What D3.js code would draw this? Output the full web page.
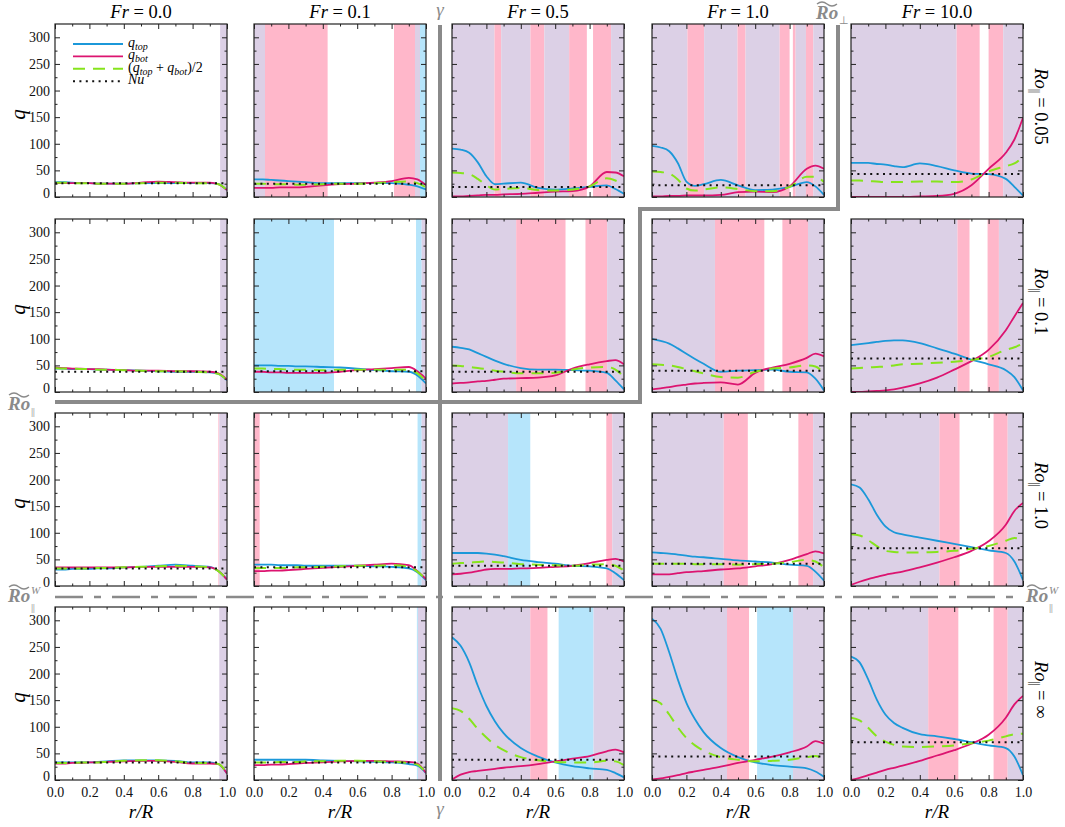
<!DOCTYPE html>
<html>
<head>
<meta charset="utf-8">
<script src="https://cdnjs.cloudflare.com/ajax/libs/d3/7.8.5/d3.min.js"></script>
<style>
body { margin: 0; background: #fff; }
svg, svg text { font-family: "Liberation Serif", "Times New Roman", serif; }
</style>
</head>
<body>
<div id="chart"></div>
<script>
var frLabels = ["0.0", "0.1", "0.5", "1.0", "10.0"];
var roLabels = ["0.05", "0.1", "1.0", "\u221e"];
var rGrid = [0, 0.05, 0.1, 0.15, 0.2, 0.25, 0.3, 0.4, 0.5, 0.6, 0.7, 0.8, 0.9, 0.95, 1.0];
var xTicks = [0, 0.2, 0.4, 0.6, 0.8, 1.0];
var xMinor = [0.1, 0.3, 0.5, 0.7, 0.9];
var yTicks = [0, 50, 100, 150, 200, 250, 300];
var yMinor = [25, 75, 125, 175, 225, 275];

// one array per Fr column, rows = Ro_par
var qTopRo005 = [
    [28, 28, 27, 26, 26, 25, 25, 25, 26, 26, 26, 26, 26, 24, 13],
    [33, 33, 32, 31, 30, 29, 28, 26, 26, 26, 26, 26, 23, 20, 14],
    [91, 89, 83, 65, 39, 24, 25, 27, 17, 14, 16, 19, 22, 15, 6],
    [96, 93, 86, 64, 29, 21, 24, 32, 22, 13, 14, 19, 28, 20, 4],
    [64, 64, 64, 62, 61, 58, 56, 63, 58, 50, 44, 43, 34, 19, 3]
];
var qBotRo005 = [
    [26, 26, 26, 26, 26, 25, 25, 25, 27, 29, 28, 27, 27, 24, 13],
    [17, 17, 17, 18, 18, 18, 19, 22, 24, 25, 27, 30, 36, 33, 22],
    [1, 1, 2, 3, 4, 4, 5, 6, 8, 10, 11, 20, 47, 46, 39],
    [1, 1, 2, 2, 3, 3, 3, 4, 9, 10, 9, 20, 53, 59, 53],
    [0, 0, 0, 0, 0, 0, 0, 1, 2, 6, 22, 53, 83, 108, 149]
];
var qMeanRo005 = [
    [27, 27, 26, 26, 26, 25, 25, 25, 26, 27, 27, 26, 26, 24, 13],
    [25, 25, 24, 24, 24, 23, 23, 24, 25, 25, 26, 28, 29, 26, 18],
    [46, 45, 43, 34, 22, 14, 15, 17, 13, 12, 14, 20, 35, 31, 23],
    [48, 47, 44, 33, 16, 12, 14, 18, 15, 11, 11, 19, 38, 38, 28],
    [31, 31, 30, 29, 28, 28, 28, 29, 29, 28, 33, 48, 58, 63, 76]
];
var nuRo005 = [26, 25, 19, 22, 43];

var qTopRo01 = [
    [44, 44, 43, 43, 43, 42, 42, 41, 40, 39, 38, 38, 37, 34, 22],
    [50, 50, 50, 49, 49, 48, 48, 47, 46, 44, 41, 39, 38, 31, 16],
    [85, 83, 80, 73, 66, 59, 53, 45, 42, 42, 41, 40, 36, 22, 5],
    [100, 96, 91, 82, 72, 62, 53, 38, 40, 41, 42, 38, 37, 25, 3],
    [88, 90, 92, 94, 96, 97, 97, 92, 82, 72, 61, 52, 41, 28, 3]
];
var qBotRo01 = [
    [46, 45, 44, 44, 43, 43, 42, 41, 40, 40, 39, 39, 38, 35, 23],
    [38, 38, 37, 37, 36, 36, 36, 36, 38, 41, 43, 45, 47, 39, 25],
    [16, 17, 18, 20, 21, 23, 25, 26, 27, 31, 44, 52, 58, 60, 52],
    [5, 7, 9, 12, 14, 16, 17, 18, 14, 36, 46, 53, 64, 72, 67],
    [0, 0, 1, 2, 3, 5, 8, 16, 27, 42, 58, 79, 116, 142, 167]
];
var qMeanRo01 = [
    [45, 44, 44, 43, 43, 42, 42, 41, 40, 39, 39, 38, 37, 34, 22],
    [44, 44, 43, 43, 42, 42, 42, 41, 42, 42, 42, 42, 42, 35, 20],
    [50, 49, 47, 45, 43, 40, 38, 35, 35, 36, 42, 46, 47, 42, 28],
    [52, 51, 50, 47, 43, 39, 35, 28, 27, 38, 44, 46, 50, 48, 35],
    [44, 45, 46, 47, 48, 50, 52, 53, 55, 57, 60, 66, 79, 84, 91]
];
var nuRo01 = [38, 39, 38, 40, 63];

var qTopRo1 = [
    [31, 31, 32, 32, 32, 33, 33, 35, 36, 38, 40, 38, 36, 28, 12],
    [40, 40, 40, 39, 39, 39, 38, 38, 38, 38, 37, 36, 33, 26, 11],
    [62, 62, 62, 62, 61, 59, 56, 49, 45, 42, 38, 37, 33, 24, 11],
    [63, 62, 61, 59, 57, 55, 54, 51, 48, 46, 44, 40, 38, 27, 10],
    [191, 185, 163, 134, 112, 101, 97, 91, 85, 79, 73, 67, 62, 46, 11]
];
var qBotRo1 = [
    [35, 35, 35, 35, 35, 35, 35, 35, 36, 36, 36, 36, 35, 28, 12],
    [28, 28, 29, 29, 30, 31, 32, 34, 36, 38, 40, 42, 39, 28, 13],
    [22, 23, 25, 28, 31, 32, 32, 33, 34, 36, 38, 43, 49, 51, 46],
    [22, 22, 22, 24, 26, 27, 28, 31, 33, 37, 41, 49, 60, 65, 61],
    [2, 8, 13, 17, 21, 24, 27, 35, 44, 54, 66, 84, 115, 141, 156]
];
var qMeanRo1 = [
    [33, 33, 33, 33, 33, 34, 34, 35, 36, 37, 38, 37, 35, 28, 12],
    [34, 34, 34, 34, 34, 35, 35, 36, 37, 38, 38, 39, 36, 27, 12],
    [42, 43, 44, 45, 46, 45, 44, 41, 40, 39, 38, 40, 41, 38, 29],
    [42, 42, 42, 42, 42, 41, 41, 41, 40, 41, 42, 45, 49, 46, 35],
    [97, 95, 86, 75, 66, 64, 63, 63, 64, 66, 70, 75, 85, 90, 88]
];
var nuRo1 = [33, 35, 38, 42, 71];

var qTopRoInf = [
    [33, 33, 33, 33, 33, 34, 35, 37, 37, 37, 36, 33, 33, 30, 12],
    [38, 38, 38, 38, 38, 38, 38, 37, 36, 35, 34, 33, 30, 27, 13],
    [268, 252, 221, 177, 139, 110, 88, 60, 44, 33, 26, 22, 19, 13, 5],
    [303, 284, 240, 189, 145, 114, 90, 60, 43, 33, 28, 25, 22, 16, 6],
    [232, 221, 189, 151, 123, 107, 98, 86, 82, 77, 71, 65, 60, 44, 9]
];
var qBotRoInf = [
    [31, 31, 32, 32, 33, 33, 34, 35, 36, 36, 34, 31, 31, 30, 12],
    [28, 28, 29, 29, 30, 31, 32, 33, 35, 36, 36, 35, 34, 31, 13],
    [1, 10, 15, 17, 19, 21, 23, 26, 30, 35, 40, 45, 54, 57, 52],
    [1, 3, 6, 9, 13, 16, 19, 25, 32, 38, 44, 52, 63, 73, 68],
    [0, 4, 9, 14, 19, 23, 27, 36, 46, 56, 68, 85, 117, 142, 158]
];
var qMeanRoInf = [
    [32, 32, 32, 33, 33, 33, 34, 36, 37, 37, 35, 32, 32, 30, 12],
    [33, 33, 33, 34, 34, 34, 35, 35, 36, 36, 35, 34, 32, 29, 13],
    [135, 130, 115, 96, 80, 66, 56, 43, 37, 34, 33, 33, 36, 35, 28],
    [152, 144, 123, 99, 79, 65, 55, 43, 38, 35, 36, 38, 43, 45, 38],
    [117, 112, 98, 82, 72, 66, 63, 62, 63, 65, 69, 74, 82, 86, 87]
];
var nuRoInf = [33, 33, 38, 44, 71];

// shaded r/R intervals: [from, to, kind]
var zonesRo005 = [
    [[0.96, 1, "L"]],
    [[0, 0.064, "L"], [0.064, 0.428, "P"], [0.814, 0.936, "P"], [0.936, 0.965, "L"], [0.965, 1, "B"]],
    [[0, 0.247, "L"], [0.247, 0.286, "P"], [0.286, 0.456, "L"], [0.456, 0.537, "P"], [0.537, 0.681, "L"], [0.681, 0.784, "P"], [0.82, 0.925, "P"], [0.925, 1, "L"]],
    [[0, 0.206, "L"], [0.206, 0.303, "P"], [0.303, 0.497, "L"], [0.497, 0.544, "P"], [0.544, 0.742, "L"], [0.742, 0.8, "P"], [0.819, 0.835, "P"], [0.835, 0.895, "L"], [0.895, 0.938, "P"], [0.938, 1, "L"]],
    [[0, 0.614, "L"], [0.614, 0.748, "P"], [0.8, 0.885, "P"], [0.885, 1, "L"]]
];
var zonesRo01 = [
    [[0.96, 1, "L"]],
    [[0, 0.465, "B"], [0.942, 0.975, "B"], [0.975, 1, "L"]],
    [[0, 0.373, "L"], [0.373, 0.66, "P"], [0.776, 0.902, "P"], [0.902, 1, "L"]],
    [[0, 0.366, "L"], [0.366, 0.653, "P"], [0.758, 0.907, "P"], [0.907, 1, "L"]],
    [[0, 0.619, "L"], [0.619, 0.689, "P"], [0.794, 0.86, "P"], [0.86, 1, "L"]]
];
var zonesRo1 = [
    [[0.95, 0.955, "P"], [0.955, 1, "L"]],
    [[0, 0.033, "P"], [0.951, 0.975, "B"], [0.975, 1, "L"]],
    [[0, 0.326, "L"], [0.326, 0.455, "B"], [0.897, 0.932, "P"], [0.932, 1, "L"]],
    [[0, 0.417, "L"], [0.417, 0.557, "P"], [0.851, 0.937, "P"], [0.937, 1, "L"]],
    [[0, 0.514, "L"], [0.514, 0.631, "P"], [0.829, 0.911, "P"], [0.911, 1, "L"]]
];
var zonesRoInf = [
    [[0.955, 1, "L"]],
    [[0.947, 0.953, "B"], [0.953, 1, "L"]],
    [[0, 0.455, "L"], [0.455, 0.555, "P"], [0.62, 0.823, "B"], [0.823, 1, "L"]],
    [[0, 0.436, "L"], [0.436, 0.564, "P"], [0.611, 0.82, "B"], [0.82, 1, "L"]],
    [[0, 0.449, "L"], [0.449, 0.624, "P"], [0.829, 0.911, "P"], [0.911, 1, "L"]]
];

var rows = [
    { top: qTopRo005, bot: qBotRo005, mean: qMeanRo005, nu: nuRo005, zones: zonesRo005 },
    { top: qTopRo01, bot: qBotRo01, mean: qMeanRo01, nu: nuRo01, zones: zonesRo01 },
    { top: qTopRo1, bot: qBotRo1, mean: qMeanRo1, nu: nuRo1, zones: zonesRo1 },
    { top: qTopRoInf, bot: qBotRoInf, mean: qMeanRoInf, nu: nuRoInf, zones: zonesRoInf }
];

var width = 1065, height = 827;
var colLeft = [55, 254, 452, 652, 851];
var rowTop = [24, 219, 413, 607];
var pw = 172, ph = 173;
var serif = "Liberation Serif, Times New Roman, serif";
var par = "||";

var zoneColor = { L: "#dcd0e6", P: "#ffb7ca", B: "#b6e5fb" };
var topColor = "#1b98d9", botColor = "#dc1470", meanColor = "#86e41c";
var sepColor = "#8a8a8a";

var x = d3.scaleLinear().domain([0, 1]).range([0, pw]);
var y = d3.scaleLinear().domain([0, 325]).range([ph, 0]);

var line = d3.line()
    .x(function (d, i) { return x(rGrid[i]); })
    .y(function (d) { return y(d); })
    .curve(d3.curveMonotoneX);

var svg = d3.select("#chart").append("svg")
    .attr("width", width)
    .attr("height", height)
    .attr("font-family", serif);

svg.append("defs").append("clipPath").attr("id", "panelClip")
    .append("rect").attr("width", pw).attr("height", ph);

// rich text: parts = [text, italic, size, dy]
var addRich = function (sel, parts) {
    parts.forEach(function (p) {
        var t = sel.append("tspan").text(p[0]);
        if (p[1]) t.attr("font-style", "italic");
        if (p[2]) t.attr("font-size", p[2]);
        if (p[3]) t.attr("dy", p[3]);
        if (p[0] === par) t.attr("letter-spacing", -0.5);
    });
    return sel;
}

var styleAxis = function (g) {
    g.select(".domain").remove();
    g.attr("font-family", serif).attr("font-size", null);
    g.selectAll("line").attr("stroke", "#222").attr("stroke-width", 1);
    g.selectAll("text").attr("font-size", 14).attr("fill", "#111");
}

var drawTicks = function (g, showY, showX) {
    var left = d3.axisLeft(y).tickValues(yTicks).tickSize(-5).tickPadding(5);
    if (!showY) left.tickFormat("");
    var gl = g.append("g").call(left).call(styleAxis);
    gl.selectAll("text").filter(function (d) { return d === 0; }).attr("dy", "0em");
    g.append("g").call(d3.axisLeft(y).tickValues(yMinor).tickSize(-2.5).tickFormat("")).call(styleAxis);
    g.append("g").attr("transform", "translate(" + pw + ",0)")
        .call(d3.axisRight(y).tickValues(yTicks).tickSize(-5).tickFormat("")).call(styleAxis);
    g.append("g").attr("transform", "translate(" + pw + ",0)")
        .call(d3.axisRight(y).tickValues(yMinor).tickSize(-2.5).tickFormat("")).call(styleAxis);

    var bottom = d3.axisBottom(x).tickValues(xTicks).tickSize(-5).tickPadding(7).tickFormat(d3.format(".1f"));
    if (!showX) bottom.tickFormat("");
    g.append("g").attr("transform", "translate(0," + ph + ")").call(bottom).call(styleAxis);
    g.append("g").attr("transform", "translate(0," + ph + ")")
        .call(d3.axisBottom(x).tickValues(xMinor).tickSize(-2.5).tickFormat("")).call(styleAxis);
    g.append("g").call(d3.axisTop(x).tickValues(xTicks).tickSize(-5).tickFormat("")).call(styleAxis);
    g.append("g").call(d3.axisTop(x).tickValues(xMinor).tickSize(-2.5).tickFormat("")).call(styleAxis);
}

//draw panels
rows.forEach(function (row, ri) {
    frLabels.forEach(function (fr, ci) {
        var g = svg.append("g")
            .attr("transform", "translate(" + colLeft[ci] + "," + rowTop[ri] + ")");
        var plot = g.append("g").attr("clip-path", "url(#panelClip)");

        plot.selectAll("rect.zone").data(row.zones[ci]).join("rect")
            .attr("class", "zone")
            .attr("x", function (d) { return x(d[0]); })
            .attr("width", function (d) { return x(d[1]) - x(d[0]); })
            .attr("y", 0)
            .attr("height", ph)
            .attr("fill", function (d) { return zoneColor[d[2]]; });

        plot.append("path").attr("d", line(row.top[ci]))
            .attr("fill", "none").attr("stroke", topColor).attr("stroke-width", 1.8);
        plot.append("path").attr("d", line(row.bot[ci]))
            .attr("fill", "none").attr("stroke", botColor).attr("stroke-width", 1.8);
        plot.append("path").attr("d", line(row.mean[ci]))
            .attr("fill", "none").attr("stroke", meanColor).attr("stroke-width", 2)
            .attr("stroke-dasharray", "12,8");
        plot.append("line")
            .attr("x1", 0).attr("x2", pw)
            .attr("y1", y(row.nu[ci])).attr("y2", y(row.nu[ci]))
            .attr("stroke", "#111").attr("stroke-width", 2)
            .attr("stroke-dasharray", "2,4.4");

        drawTicks(g, ci === 0, ri === rows.length - 1);

        g.append("rect").attr("width", pw).attr("height", ph)
            .attr("fill", "none").attr("stroke", "#222").attr("stroke-width", 1.2);
    });
});

//column titles and x labels
frLabels.forEach(function (fr, ci) {
    var t = svg.append("text")
        .attr("x", colLeft[ci] + pw / 2).attr("y", 18)
        .attr("text-anchor", "middle").attr("font-size", 18.5);
    addRich(t, [["Fr", true], [" = " + fr, false]]);

    var xl = svg.append("text")
        .attr("x", colLeft[ci] + pw / 2).attr("y", 818)
        .attr("text-anchor", "middle").attr("font-size", 19);
    addRich(xl, [["r/R", true]]);
});

//row labels
roLabels.forEach(function (ro, ri) {
    var cy = rowTop[ri] + ph / 2;
    svg.append("text")
        .attr("transform", "translate(25," + (cy + 4) + ") rotate(-90)")
        .attr("text-anchor", "middle").attr("font-size", 21).attr("font-style", "italic")
        .text("q");
    var t = svg.append("text")
        .attr("transform", "translate(1035," + (cy - 4) + ") rotate(90)")
        .attr("text-anchor", "middle").attr("font-size", 18.5);
    addRich(t, [["Ro", true], [par, false, 12, 4], [" = " + ro, false, null, -4]]);
});

//legend
var legendItems = [
    { color: topColor, dash: null, w: 1.8, parts: [["q", true], ["top", true, 10, 3]] },
    { color: botColor, dash: null, w: 1.8, parts: [["q", true], ["bot", true, 10, 3]] },
    { color: meanColor, dash: "12,8", w: 2, parts: [["(", false], ["q", true], ["top", true, 10, 3], [" + ", false, null, -3], ["q", true], ["bot", true, 10, 3], [")/2", false, null, -3]] },
    { color: "#111", dash: "2,4.4", w: 2, parts: [["Nu", true]] }
];
var legend = svg.append("g").attr("transform", "translate(" + colLeft[0] + "," + rowTop[0] + ")");
legendItems.forEach(function (it, i) {
    var ly = 20 + i * 12.4;
    legend.append("line")
        .attr("x1", 18).attr("x2", 68).attr("y1", ly).attr("y2", ly)
        .attr("stroke", it.color).attr("stroke-width", it.w)
        .attr("stroke-dasharray", it.dash);
    var t = legend.append("text").attr("x", 73).attr("y", ly + 3).attr("font-size", 14);
    addRich(t, it.parts);
});

//separator lines
var sep = svg.append("g").attr("fill", "none").attr("stroke", sepColor).attr("stroke-width", 4);
sep.append("line").attr("x1", 440).attr("x2", 440).attr("y1", 25).attr("y2", 781);
sep.append("path").attr("d", "M55,402H640V209H838V25");
sep.append("line").attr("x1", 55).attr("x2", 1020).attr("y1", 597).attr("y2", 597)
    .attr("stroke-width", 2.5).attr("stroke-dasharray", "28,11,7,11");

var gammaLabel = function (yy) {
    svg.append("text").attr("x", 440).attr("y", yy)
        .attr("text-anchor", "middle").attr("font-size", 19)
        .attr("font-style", "italic").attr("fill", sepColor).text("\u03b3");
}
gammaLabel(16);
gammaLabel(815);

var roTilde = function (x0, base, sub, sup) {
    var g = svg.append("g").attr("fill", sepColor);
    g.append("text").attr("x", x0).attr("y", base)
        .attr("font-size", 19).attr("font-style", "italic").attr("font-weight", "bold")
        .text("Ro");
    g.append("path")
        .attr("d", "M" + (x0 + 1) + "," + (base - 15) + "q5,-4 10,0t10,0")
        .attr("fill", "none").attr("stroke", sepColor).attr("stroke-width", 1.4);
    if (sup) {
        g.append("text").attr("x", x0 + 23).attr("y", base - 8)
            .attr("font-size", 11).attr("font-style", "italic").text(sup);
    }
    g.append("text").attr("x", x0 + 23).attr("y", base + (sup ? 9 : 5))
        .attr("font-size", 11).attr("letter-spacing", sub === par ? -0.5 : 0).text(sub);
}
roTilde(8, 410, par);
roTilde(8, 602, par, "W");
roTilde(1026, 602, par, "W");
roTilde(816, 19, "\u22a5");
</script>
</body>
</html>
